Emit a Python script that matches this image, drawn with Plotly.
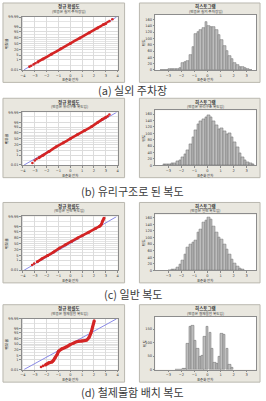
import plotly.graph_objects as go
from statistics import NormalDist

W, H = 266, 401
ND = NormalDist()
FONT = "Noto Sans CJK KR"

# ---------------- data ----------------
captions = ["(a) 실외 주차장", "(b) 유리구조로 된 복도", "(c) 일반 복도", "(d) 철제물함 배치 복도"]
places = ["실외 주차장", "유리구조 복도", "일반 복도", "철제물함 복도"]
prob_title = "정규 확률도"
hist_title = "히스토그램"
x_title = "표준화 잔차"
prob_y_title = "백분율"
hist_y_title = "빈도"

pct_ticks = [0.01, 1, 5, 20, 50, 80, 95, 99, 99.99]
pct_labels = ["0.01", "1", "5", "20", "50", "80", "95", "99", "99.99"]
pct_minor = [0.1, 10, 30, 40, 60, 70, 90, 99.9]
resid_ticks = [-4, -3, -2, -1, 0, 1, 2, 3, 4]
hist_ticks = [-3, -2, -1, 0, 1, 2, 3]

fit_resid = [-3.9, 3.9]
fit_pct = [0.01, 99.99]

# normal probability plots (residual, percent) read along the red band
a_res = [-2.75, -2.3, -1.6, -0.8, 0.0, 0.8, 1.6, 2.3, 2.8, 3.0]
a_pct = [0.44, 1.4, 6.3, 22.3, 50, 77.7, 93.7, 98.6, 99.62, 99.75]
a_tail_res = [-3.45, -3.3, -3.1, -2.95, 3.15, 3.3, 3.55]
a_tail_pct = [0.05, 0.08, 0.15, 0.25, 99.88, 99.92, 99.97]

b_res = [-2.65, -2.3, -1.8, -1.2, -0.6, 0.0, 0.6, 1.2, 1.8, 2.3, 2.7, 3.0]
b_pct = [0.35, 1.0, 3.6, 12.5, 28, 50, 72, 87.5, 95.7, 98.9, 99.7, 99.88]
b_tail_res = [-3.2, -3.0, -2.85, 3.15, 3.3]
b_tail_pct = [0.03, 0.1, 0.2, 99.93, 99.97]

c_res = [-2.79, -2.4, -1.92, -1.4, -0.91, -0.4, 0.13, 0.6, 1.0, 1.55, 2.13, 2.45, 2.56, 2.65, 2.71, 2.78, 2.85]
c_pct = [0.54, 1.6, 4.5, 12, 26, 43, 62, 77, 86, 94, 98.1, 99.1, 99.4, 99.7, 99.89, 99.95, 99.98]
c_tail_res = [-3.22, -3.05]
c_tail_pct = [0.14, 0.25]

d_res = [-2.11, -1.8, -1.55, -1.4, -1.27, -1.1, -0.99, -0.71, -0.3, -0.02, 0.26, 0.62, 0.96, 1.38, 1.57, 1.74, 1.88, 2.02]
d_pct = [0.11, 0.3, 0.45, 1.0, 2.6, 7, 14.7, 24.5, 35, 47, 56, 65, 68, 72.6, 83, 95, 99.4, 99.97]
d_tail_res = [-2.47, -2.3]
d_tail_pct = [0.04, 0.07]

# histograms (bin centre, count)
ha_x = [-3.5, -3.3, -3.1, -2.9, -2.7, -2.5, -2.3, -2.1, -1.9, -1.7, -1.5, -1.3, -1.1, -0.9, -0.7, -0.5, -0.3, -0.1,
        0.1, 0.3, 0.5, 0.7, 0.9, 1.1, 1.3, 1.5, 1.7, 1.9, 2.1, 2.3, 2.5, 2.7, 2.9, 3.1, 3.3]
ha_y = [1, 1, 1, 2, 2, 3, 4, 6, 24, 26, 30, 48, 72, 115, 122, 128, 135, 152,
        140, 137, 136, 128, 110, 95, 75, 60, 45, 34, 24, 17, 11, 9, 6, 3, 1]
hb_x = [-3.3, -3.1, -2.9, -2.7, -2.5, -2.3, -2.1, -1.9, -1.7, -1.5, -1.3, -1.1, -0.9, -0.7, -0.5, -0.3, -0.1,
        0.1, 0.3, 0.5, 0.7, 0.9, 1.1, 1.3, 1.5, 1.7, 1.9, 2.1, 2.3, 2.5, 2.7, 2.9, 3.1, 3.3, 3.5]
hb_y = [2, 2, 3, 5, 8, 12, 17, 25, 35, 48, 65, 88, 110, 128, 138, 145, 150,
        155, 150, 138, 125, 112, 115, 105, 98, 100, 88, 72, 55, 38, 25, 15, 9, 5, 2]
hc_x = [-2.9, -2.7, -2.5, -2.3, -2.1, -1.9, -1.7, -1.5, -1.3, -1.1, -0.9, -0.7, -0.5, -0.3, -0.1,
        0.1, 0.3, 0.5, 0.7, 0.9, 1.1, 1.3, 1.5, 1.7, 1.9, 2.1, 2.3, 2.5, 2.7]
hc_y = [1, 2, 4, 8, 18, 30, 50, 70, 80, 85, 92, 115, 125, 145, 152,
        160, 155, 135, 115, 100, 95, 80, 65, 50, 35, 22, 12, 6, 2]
hd_x = [-2.4, -2.2, -2.0, -1.85, -1.68, -1.5, -1.32, -1.13, -0.95, -0.75, -0.55, -0.38, -0.2, 0.0,
        0.2, 0.38, 0.55, 0.75, 0.93, 1.1, 1.3, 1.5, 1.7, 1.88]
hd_y = [1, 1, 2, 3, 5, 98, 160, 163, 108, 78, 48, 53, 123, 158,
        138, 78, 28, 23, 48, 133, 128, 78, 20, 6]

prob_sets = [(a_res, a_pct, a_tail_res, a_tail_pct), (b_res, b_pct, b_tail_res, b_tail_pct),
             (c_res, c_pct, c_tail_res, c_tail_pct), (d_res, d_pct, d_tail_res, d_tail_pct)]
hist_sets = [(ha_x, ha_y, 0.2, 175, 20), (hb_x, hb_y, 0.2, 172, 20),
             (hc_x, hc_y, 0.2, 170, 20), (hd_x, hd_y, 0.185, 196, 50)]

# ---------------- layout geometry (pixels) ----------------
panel_tops = [2, 98, 203, 306]
panel_bottoms = [82, 178, 284, 384]
caption_y = [90, 191, 295, 394]

RED = "#d42424"
BLUE = "#8a8ae6"
PANEL = "#e9e7df"
PANEL_LINE = "#bab8af"
AXIS = "#8c8c8c"
TXT = "#3a3a3a"


def px(x):
    return x / W


def py(y):
    return 1 - y / H


def z(p):
    return ND.inv_cdf(p / 100.0)


def axname(kind, n):
    return kind + ("axis" if n == 1 else "axis%d" % n)


def ref(kind, n):
    return kind if n == 1 else "%s%d" % (kind, n)


fig = go.Figure()
shapes, annotations, layout = [], [], {}


def ann(text, x, y, size, angle=0, bold=False, color=TXT):
    annotations.append(dict(text=("<b>%s</b>" % text) if bold else text, x=px(x), y=py(y),
                            xref="paper", yref="paper", showarrow=False, textangle=angle,
                            xanchor="center", yanchor="middle",
                            font=dict(family=FONT, size=size, color=color)))


for i in range(4):
    T, B = panel_tops[i], panel_bottoms[i]
    for (x0, x1) in [(2, 125), (140, 262)]:
        shapes.append(dict(type="rect", xref="paper", yref="paper", x0=px(x0), x1=px(x1),
                           y0=py(B), y1=py(T), fillcolor=PANEL,
                           line=dict(color=PANEL_LINE, width=1), layer="below"))
    Lp = (21, 118, T + 14, B - 12.5)
    Rp = (156, 258, T + 12, B - 12.5)
    for (x0, x1, y0, y1) in (Lp, Rp):
        shapes.append(dict(type="rect", xref="paper", yref="paper", x0=px(x0), x1=px(x1),
                           y0=py(y1), y1=py(y0), fillcolor="white", line=dict(width=0), layer="below"))

    nL, nR = 2 * i + 1, 2 * i + 2
    common = dict(showline=True, mirror=True, linecolor=AXIS, linewidth=0.8, zeroline=False,
                  ticks="outside", ticklen=1.5, tickcolor=AXIS, tickwidth=0.6,
                  tickfont=dict(size=3.6, color=TXT, family="DejaVu Sans"), fixedrange=True)
    layout[axname("x", nL)] = dict(domain=[px(Lp[0]), px(Lp[1])], range=[-4.1, 4.0], anchor=ref("y", nL),
                                   tickvals=resid_ticks, showgrid=True, gridcolor="#dcdcdc", gridwidth=0.6,
                                   **common)
    layout[axname("y", nL)] = dict(domain=[py(Lp[3]), py(Lp[2])], range=[-3.76, 3.76], anchor=ref("x", nL),
                                   tickvals=[z(p) for p in pct_ticks], ticktext=pct_labels,
                                   showgrid=True, gridcolor="#dcdcdc", gridwidth=0.6,
                                   minor=dict(tickvals=[z(p) for p in pct_minor], showgrid=True,
                                              gridcolor="#e4e4e4", gridwidth=0.5, ticks=""),
                                   **common)
    hx, hy, bw, ymax, dt = hist_sets[i]
    layout[axname("x", nR)] = dict(domain=[px(Rp[0]), px(Rp[1])], range=[-4.0, 3.72], anchor=ref("y", nR),
                                   tickvals=hist_ticks, showgrid=False, **common)
    layout[axname("y", nR)] = dict(domain=[py(Rp[3]), py(Rp[2])], range=[0, ymax], anchor=ref("x", nR),
                                   dtick=dt, showgrid=False, **common)

    res, pct, tres, tpct = prob_sets[i]
    fig.add_trace(go.Scatter(x=fit_resid, y=[z(p) for p in fit_pct], mode="lines",
                             line=dict(color=BLUE, width=1), xaxis=ref("x", nL), yaxis=ref("y", nL)))
    fig.add_trace(go.Scatter(x=res, y=[z(p) for p in pct], mode="lines+markers",
                             line=dict(color=RED, width=3.2 if i == 3 else 2.6, shape="spline", smoothing=0.6),
                             marker=dict(color=RED, size=3),
                             xaxis=ref("x", nL), yaxis=ref("y", nL)))
    fig.add_trace(go.Scatter(x=tres, y=[z(p) for p in tpct], mode="markers",
                             marker=dict(color=RED, size=2.6),
                             xaxis=ref("x", nL), yaxis=ref("y", nL)))
    fig.add_trace(go.Bar(x=hx, y=hy, width=bw,
                         marker=dict(color="#bdbdbd", line=dict(color="#6e6e6e", width=0.5)),
                         xaxis=ref("x", nR), yaxis=ref("y", nR)))

    sub = "(반응은 %s임)" % places[i]
    ann(prob_title, 69, T + 4, 4.5, bold=True)
    ann(sub, 69, T + 8.5, 3.6)
    ann(hist_title, 207, T + 4, 4.5, bold=True)
    ann(sub, 207, T + 8.5, 3.6)
    ann(x_title, 70, B - 2.6, 3.4)
    ann(x_title, 207, B - 2.6, 3.4)
    ann(prob_y_title, 5.5, (Lp[2] + Lp[3]) / 2, 3.8, angle=-90)
    ann(hist_y_title, 144.5, (Rp[2] + Rp[3]) / 2, 3.8, angle=-90)
    ann(captions[i], 133, caption_y[i], 11, color="#3c3c3c")

fig.update_layout(width=W, height=H, margin=dict(l=0, r=0, t=0, b=0), showlegend=False,
                  paper_bgcolor="white", plot_bgcolor="rgba(0,0,0,0)", bargap=0,
                  shapes=shapes, annotations=annotations, **layout)
fig.write_html("out.html")
